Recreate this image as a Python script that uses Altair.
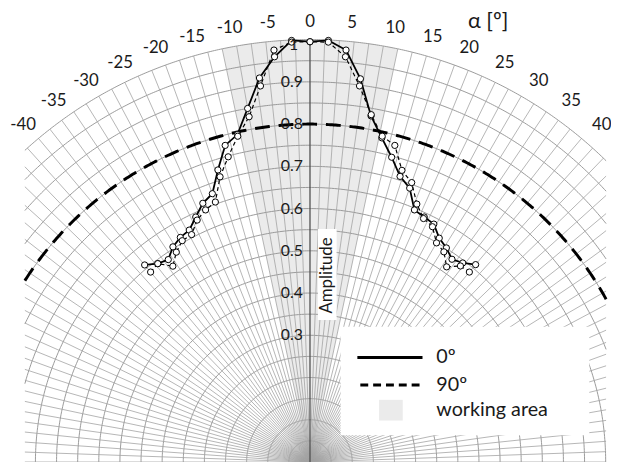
import math
import altair as alt
import numpy as np
import pandas as pd

# ---------------- values ----------------
angles = [-40.0, -37.5, -35.0, -32.5, -30.0, -27.5, -25.0, -22.5, -20.0, -17.5,
          -15.0, -12.5, -10.0, -7.5, -5.0, -2.5, 0.0, 2.5, 5.0, 7.5, 10.0, 12.5,
          15.0, 17.5, 20.0, 22.5, 25.0, 27.5, 30.0, 32.5, 35.0, 37.5, 40.0]
amp_0deg = [0.609, 0.592, 0.585, 0.604, 0.614, 0.619, 0.640, 0.663, 0.676, 0.725,
            0.776, 0.794, 0.850, 0.917, 0.963, 0.999, 0.995, 0.999, 0.979, 0.915,
            0.832, 0.786, 0.747, 0.709, 0.690, 0.646, 0.640, 0.635, 0.612, 0.601,
            0.586, 0.594, 0.610]
amp_90deg = [0.587, 0.592, 0.566, 0.589, 0.605, 0.607, 0.632, 0.646, 0.655, 0.708,
             0.748, 0.790, 0.830, 0.898, 0.979, 0.995, 0.995, 0.995, 0.963, 0.898,
             0.835, 0.790, 0.776, 0.724, 0.704, 0.661, 0.636, 0.628, 0.599, 0.590,
             0.564, 0.585, 0.587]
alpha_ticks = list(range(-40, 45, 5))
amp_ticks = [0.3, 0.4, 0.5, 0.6, 0.7, 0.8, 0.9, 1.0]
working_area = [-12.0, 12.0]
reference_ring = 0.8
ring_step = 0.05
ray_step = 2
legend_labels = ["0º", "90º", "working area"]
alpha_title = "α [º]"
amp_title = "Amplitude"

# ---------------- layout ----------------
W, H = 611, 457
XDOM = [-0.71495, 0.71262]
YDOM = [0.0, 1.06776]
XL, XR = -0.675, 0.701          # grid clip box (data units)
FONT = "Lato"
INK = "#1a1a1a"

xs = alt.Scale(domain=XDOM, nice=False, zero=False)
ys = alt.Scale(domain=YDOM, nice=False, zero=False)


def X(f):
    return alt.X(f"{f}:Q", scale=xs, axis=None)


def Y(f):
    return alt.Y(f"{f}:Q", scale=ys, axis=None)


def arc_rows(r, rid, n=300):
    lo = -math.asin(min(1.0, -XL / r))
    hi = math.asin(min(1.0, XR / r))
    return [{"ring": rid, "t": t, "x": r * math.sin(t), "y": r * math.cos(t)}
            for t in np.linspace(lo, hi, n)]


# rings
ring_rows = []
for i, r in enumerate(np.arange(ring_step, 1.0 + 1e-9, ring_step)):
    ring_rows += arc_rows(float(r), i)
rings_df = pd.DataFrame(ring_rows)

# rays
ray_rows = []
for a in np.arange(-90, 90 + 1e-9, ray_step):
    if abs(a) < 1e-9:
        continue
    t = math.radians(a)
    s, c = math.sin(t), math.cos(t)
    rmax = min(1.0, XR / s) if s > 0 else min(1.0, XL / s)
    ray_rows.append({"x0": 0.0, "y0": 0.0, "x1": rmax * s, "y1": rmax * c})
rays_df = pd.DataFrame(ray_rows)

ref_df = pd.DataFrame(arc_rows(reference_ring, 0, 400))

# working area wedge
half = math.radians(working_area[1])
wx = np.linspace(math.sin(math.radians(working_area[0])), math.sin(half), 301)
wedge_df = pd.DataFrame({
    "x": wx,
    "y": np.sqrt(1 - wx ** 2),
    "y2": np.abs(wx) / math.tan(half),
    "name": legend_labels[2],
})

series_df = pd.DataFrame({
    "angle": angles * 2,
    "amp": amp_0deg + amp_90deg,
    "series": [legend_labels[0]] * len(angles) + [legend_labels[1]] * len(angles),
})

polar = dict(x="datum.amp * sin(datum.angle * PI / 180)",
             y="datum.amp * cos(datum.angle * PI / 180)")

wedge = alt.Chart(wedge_df).mark_area(color="#ebebeb", clip=True).encode(
    x=X("x"), y=Y("y"), y2="y2:Q")

rings = alt.Chart(rings_df).mark_line(color="#8f8f8f", strokeWidth=0.9, clip=True).encode(
    x=X("x"), y=Y("y"), detail="ring:N", order="t:Q")

rays = alt.Chart(rays_df).mark_rule(color="#a3a3a3", strokeWidth=0.8, clip=True).encode(
    x=X("x0"), y=Y("y0"), x2="x1:Q", y2="y1:Q")

axis0 = alt.Chart(pd.DataFrame({"x0": [0.0], "y0": [0.0], "x1": [0.0], "y1": [1.0]})).mark_rule(
    color="#505050", strokeWidth=1.3).encode(x=X("x0"), y=Y("y0"), x2="x1:Q", y2="y1:Q")

ref_ring = alt.Chart(ref_df).mark_line(color="black", strokeWidth=3, strokeDash=[15, 9],
                                       clip=True).encode(x=X("x"), y=Y("y"), order="t:Q")

base = alt.Chart(series_df).transform_calculate(**polar)

line90 = base.transform_filter(alt.datum.series == legend_labels[1]).mark_line(
    color="black", strokeWidth=1.2, strokeDash=[4, 3]).encode(
    x=X("x"), y=Y("y"), order="angle:Q")
line0 = base.transform_filter(alt.datum.series == legend_labels[0]).mark_line(
    color="black", strokeWidth=1.8).encode(
    x=X("x"), y=Y("y"), order="angle:Q")
pts = base.mark_point(shape="circle", filled=True, fill="white", stroke="black",
                      strokeWidth=1, size=40, opacity=1).encode(x=X("x"), y=Y("y"))

# amplitude tick labels
amp_lab = alt.Chart(pd.DataFrame({"v": amp_ticks})).transform_calculate(
    tx="datum.v == 1 ? -0.028 : -0.017",
    ty="datum.v == 1 ? datum.v - 0.014 : datum.v",
    label="datum.v == 1 ? '1' : format(datum.v, '.1f')",
).mark_text(align="right", baseline="middle", font=FONT, fontSize=16, color=INK).encode(
    x=X("tx"), y=Y("ty"), text="label:N")

# angle tick labels: positive ones start at the anchor, negative ones sit just left of it
alpha_base = alt.Chart(pd.DataFrame({"a": alpha_ticks})).transform_calculate(
    tx="1.042 * sin(datum.a * PI / 180)",
    ty="1.042 * cos(datum.a * PI / 180)",
    label="toString(datum.a)",
)
alpha_pos = alpha_base.transform_filter("datum.a > 0").mark_text(
    align="left", baseline="middle", dx=-1, font=FONT, fontSize=17, color=INK).encode(
    x=X("tx"), y=Y("ty"), text="label:N")
alpha_neg = alpha_base.transform_filter("datum.a < 0").mark_text(
    align="center", baseline="middle", dx=-4, font=FONT, fontSize=17, color=INK).encode(
    x=X("tx"), y=Y("ty"), text="label:N")
alpha_zero = alpha_base.transform_filter("datum.a == 0").mark_text(
    align="center", baseline="middle", font=FONT, fontSize=17, color=INK).encode(
    x=X("tx"), y=Y("ty"), text="label:N")

one = pd.DataFrame({"t": [alpha_title]})
alpha_t = alt.Chart(one).mark_text(align="left", baseline="middle", font=FONT,
                                   fontSize=22, color=INK).encode(
    x=alt.value(466), y=alt.value(10), text="t:N")

# Amplitude label with white box
amp_box = alt.Chart(pd.DataFrame({"k": [0]})).mark_rect(color="white").encode(
    x=alt.value(314), x2=alt.value(333), y=alt.value(221), y2=alt.value(313))
amp_t = alt.Chart(pd.DataFrame({"t": [amp_title]})).mark_text(
    angle=270, align="center", baseline="middle", font=FONT, fontSize=17, color=INK).encode(
    x=alt.value(323), y=alt.value(268), text="t:N")

# legend
lg_box = alt.Chart(pd.DataFrame({"k": [0]})).mark_rect(color="white").encode(
    x=alt.value(337), x2=alt.value(589), y=alt.value(320), y2=alt.value(430))
lg_solid = alt.Chart(pd.DataFrame({"k": [0]})).mark_rule(color="black", strokeWidth=3).encode(
    x=alt.value(354), x2=alt.value(420), y=alt.value(351))
lg_dash = alt.Chart(pd.DataFrame({"k": [0]})).mark_rule(
    color="black", strokeWidth=3, strokeDash=[8, 5]).encode(
    x=alt.value(357), x2=alt.value(420), y=alt.value(379))
lg_sq = alt.Chart(pd.DataFrame({"k": [0]})).mark_rect(color="#ebebeb").encode(
    x=alt.value(376), x2=alt.value(400), y=alt.value(394), y2=alt.value(415))
lg_text = []
for lab, yy in zip(legend_labels, [351, 379, 404]):
    lg_text.append(alt.Chart(pd.DataFrame({"t": [lab]})).mark_text(
        align="left", baseline="middle", font=FONT, fontSize=20, color=INK).encode(
        x=alt.value(434), y=alt.value(yy), text="t:N"))

chart = alt.layer(
    wedge, rings, rays, axis0, ref_ring, line90, line0, pts,
    amp_box, amp_t, amp_lab, alpha_pos, alpha_neg, alpha_zero, alpha_t,
    lg_box, lg_solid, lg_dash, lg_sq, *lg_text,
).properties(
    width=W, height=H, padding=0,
    autosize=alt.AutoSizeParams(type="none"),
    background="white",
).configure_view(stroke=None)

chart.save("out.html", embed_options={"renderer": "svg", "actions": False})
